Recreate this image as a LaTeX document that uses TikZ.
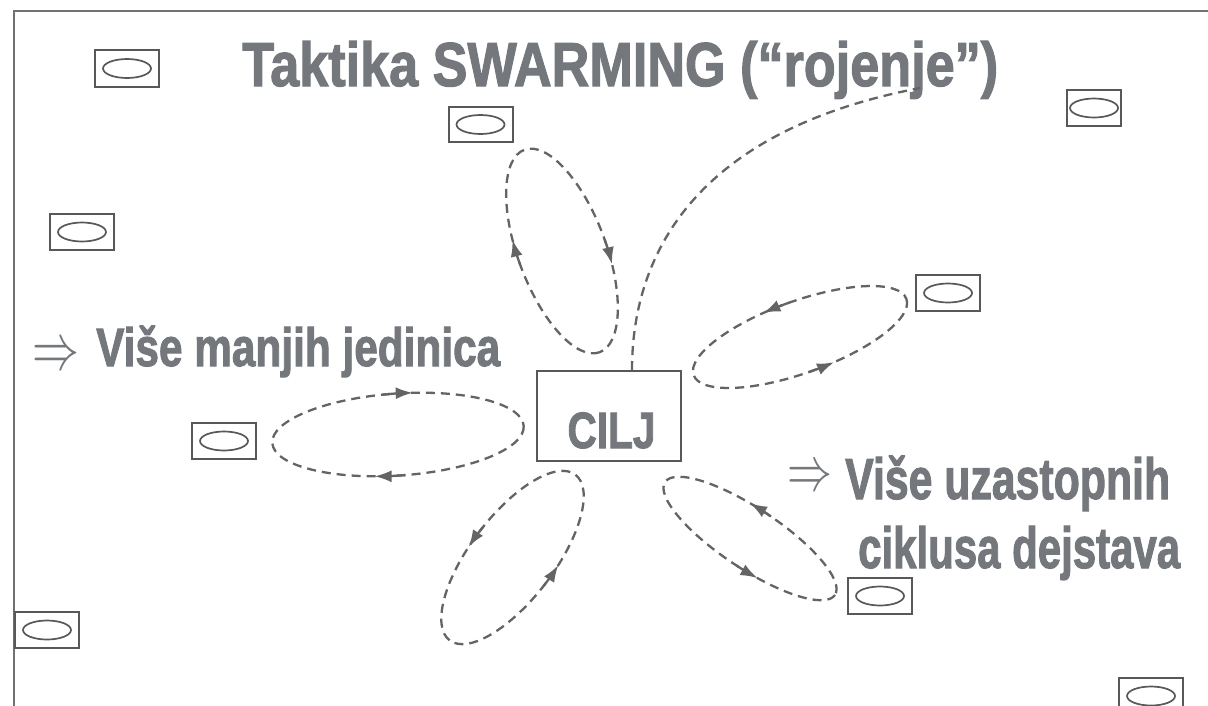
\documentclass[tikz,border=0pt]{standalone}
\usepackage{fontspec}
\setmainfont{Liberation Sans}
\newfontfamily\heavyfont{Liberation Sans Bold}[FakeBold=2]
\usepackage{graphicx}
\usetikzlibrary{arrows.meta}

\definecolor{textgray}{RGB}{116,120,124}
\definecolor{boxgray}{RGB}{88,88,88}
\definecolor{loopgray}{RGB}{100,100,100}

% set a text line and stretch it horizontally to a given width (in pt)
\newsavebox\fitbox
\newdimen\fitdim
\newcommand\fitwidth[2]{\sbox\fitbox{#2}\fitdim=\wd\fitbox
  \pgfmathsetmacro\fitfactor{#1/\fitdim}\scalebox{\fitfactor}[1]{\usebox\fitbox}}
% a double arrow, set at 24.88pt and scaled up
\newcommand\impl[2]{\scalebox{#1}[#2]{\fontsize{24.88}{30}\selectfont$\Rightarrow$}}

\tikzset{
  frameline/.style={draw=boxgray!85, line width=2pt},
  unitbox/.style={draw=boxgray, line width=2pt, minimum width=64pt,
    minimum height=36pt, inner sep=0pt,
    path picture={\draw[boxgray, line width=1.7pt]
      (path picture bounding box.center) ellipse [x radius=24pt, y radius=9.5pt];}},
  goalbox/.style={draw=boxgray, line width=2pt, minimum width=144pt,
    minimum height=90pt, inner sep=0pt},
  bigtext/.style={text=textgray, inner sep=0pt},
  loopline/.style={draw=loopgray, line width=2.3pt, dash pattern=on 9pt off 6pt},
  looptip/.style={draw=loopgray, fill=loopgray, line width=2.3pt, solid,
    -{Latex[length=17pt,width=12pt]}},
}

\begin{document}
\begin{tikzpicture}[x=1pt,y=-1pt]
\useasboundingbox (0,0) rectangle (1208,705);
\fill[white] (0,0) rectangle (1208,705);
\clip (0,0) rectangle (1208,705);
\draw[frameline] (14,11) rectangle (1240,740);

% title
\node[bigtext, anchor=base west, font=\heavyfont\fontsize{62}{70}\selectfont]
  (title) at (242,86) {\fitwidth{756}{Taktika SWARMING (“rojenje”)}};

% goal
\node[goalbox] (cilj) at (609,416) {};
\node[bigtext, anchor=base, font=\heavyfont\fontsize{51}{56}\selectfont]
  (ciljtext) at (611.5,448) {\fitwidth{88}{CILJ}};

% side captions
\node[bigtext, anchor=base west] (a1) at (32.4,369) {\impl{1.889}{2.645}};
\node[bigtext, anchor=base west, font=\heavyfont\fontsize{54}{60}\selectfont]
  (t1) at (96,366) {\fitwidth{404}{Više manjih jedinica}};
\node[bigtext, anchor=base west] (a2) at (787.5,490.75) {\impl{1.809}{2.532}};
\node[bigtext, anchor=base west, font=\heavyfont\fontsize{58}{64}\selectfont]
  (t2) at (845,499) {\fitwidth{325}{Više uzastopnih}};
\node[bigtext, anchor=base west, font=\heavyfont\fontsize{58}{64}\selectfont]
  (t3) at (858,568) {\fitwidth{322}{ciklusa dejstava}};

% units
\node[unitbox, minimum height=37pt] (u1) at (127,68.5) {};
\node[unitbox, minimum height=35pt] (u2) at (480.5,124.5) {};
\node[unitbox, minimum width=54pt] (u3) at (1094,108) {};
\node[unitbox] (u4) at (82,232) {};
\node[unitbox] (u5) at (224,441) {};
\node[unitbox] (u6) at (948,293) {};
\node[unitbox] (u7) at (880,596) {};
\node[unitbox] (u8) at (47,630) {};
\node[unitbox] (u9) at (1151,696) {};

% long approach path from the goal
\coordinate (tail) at (920,88);
\draw[loopline] ([xshift=23pt]cilj.north) .. controls (632,250) and (700,130) .. (tail);

% attack loops around the goal
\begin{scope}[shift={(562,251)}, rotate=-69.6]
  \draw[loopline] (0,0) ellipse [x radius=108, y radius=44];
  \draw[looptip] (91:108 and 44) arc[start angle=91, end angle=105, x radius=108, y radius=44];
  \draw[looptip] (272:108 and 44) arc[start angle=272, end angle=286, x radius=108, y radius=44];
\end{scope}
\begin{scope}[shift={(800,337)}, rotate=19.7]
  \draw[loopline] (0,0) ellipse [x radius=113, y radius=36];
  \draw[looptip] (270.5:113 and 36) arc[start angle=270.5, end angle=256.5, x radius=113, y radius=36];
  \draw[looptip] (92:113 and 36) arc[start angle=92, end angle=78, x radius=113, y radius=36];
\end{scope}
\begin{scope}[shift={(398,434.5)}, rotate=3.9]
  \draw[loopline] (0,0) ellipse [x radius=126, y radius=41];
  \draw[looptip] (264:126 and 41) arc[start angle=264, end angle=278, x radius=126, y radius=41];
  \draw[looptip] (88:126 and 41) arc[start angle=88, end angle=102, x radius=126, y radius=41];
\end{scope}
\begin{scope}[shift={(512.5,557.5)}, rotate=-127.2]
  \draw[loopline] (0,0) ellipse [x radius=104, y radius=42];
  \draw[looptip] (94:104 and 42) arc[start angle=94, end angle=80, x radius=104, y radius=42];
  \draw[looptip] (272:104 and 42) arc[start angle=272, end angle=258, x radius=104, y radius=42];
\end{scope}
\begin{scope}[shift={(750,538.5)}, rotate=-33.6]
  \draw[loopline] (0,0) ellipse [x radius=102, y radius=30];
  \draw[looptip] (273:102 and 30) arc[start angle=273, end angle=259, x radius=102, y radius=30];
  \draw[looptip] (88:102 and 30) arc[start angle=88, end angle=74, x radius=102, y radius=30];
\end{scope}
\end{tikzpicture}
\end{document}
